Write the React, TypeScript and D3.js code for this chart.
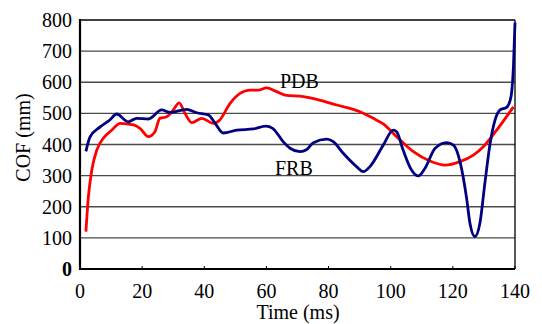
import React from "react";
import * as d3 from "d3";

const xTicks = [0, 20, 40, 60, 80, 100, 120, 140];
const yTicks = [0, 100, 200, 300, 400, 500, 600, 700, 800];

const pdbTime = [1.9, 2.7, 3.8, 5.4, 7.5, 10.2, 12.9, 17.2, 19.3, 22, 24.1, 25.7, 27.9, 30, 31.9, 33.8, 36, 39.2, 42.9, 45, 48.3, 51.5, 54.7, 57.4, 60, 63.3, 66, 71.9, 76.2, 82.6, 90.1, 94.4, 97.6, 101.9, 107.3, 112.6, 117.5, 122.3, 126.6, 129.8, 134.1, 139.5];
const pdbCof = [120, 232, 318, 382, 420, 446, 468, 463, 452, 425, 441, 484, 489, 511, 534, 500, 470, 484, 468, 479, 532, 564, 575, 575, 582, 570, 559, 554, 545, 527, 505, 484, 466, 425, 377, 347, 334, 345, 366, 393, 446, 521];

const frbTime = [1.9, 3.2, 6.4, 9.5, 11.8, 15.5, 18.2, 22, 26.3, 29, 34.3, 37.6, 41.3, 43.5, 46.1, 50.4, 55.8, 59.8, 62, 65.4, 67.6, 70.8, 73, 75.1, 79.4, 81.5, 84.7, 89, 91.2, 93.3, 97.6, 100.8, 101.9, 104, 106.7, 108.9, 111, 114.3, 118, 120.2, 122.3, 124.5, 125.5, 127.1, 128.7, 130.3, 132, 133.6, 135.2, 137.3, 138.4, 139, 139.5, 140];
const frbCof = [378, 424, 456, 478, 498, 473, 484, 482, 511, 503, 513, 502, 495, 468, 437, 446, 450, 459, 452, 409, 388, 377, 384, 406, 417, 409, 372, 329, 313, 329, 398, 446, 441, 382, 318, 299, 323, 388, 406, 398, 345, 222, 147, 104, 147, 275, 404, 479, 511, 519, 540, 575, 650, 792];

const W = 542, H = 324;
const left = 80, right = 515, top = 20, bottom = 269;

export default function App() {
  const x = d3.scaleLinear().domain([0, 140]).range([left, right]);
  const y = d3.scaleLinear().domain([0, 800]).range([bottom, top]);
  const line = d3.line<[number, number]>()
    .x(d => x(d[0]))
    .y(d => y(d[1]))
    .curve(d3.curveMonotoneX);
  const pdb = line(pdbTime.map((t, i) => [t, pdbCof[i]] as [number, number])) || "";
  const frb = line(frbTime.map((t, i) => [t, frbCof[i]] as [number, number])) || "";
  const font = "'Liberation Serif', 'Times New Roman', serif";
  return (
    <svg width={W} height={H} style={{ position: "absolute", left: 0, top: 0 }} fontFamily={font}>
      <rect x={0} y={0} width={W} height={H} fill="#fff" />
      {yTicks.filter(v => v > 0 && v < 800).map(v => (
        <line key={v} x1={left} x2={right} y1={y(v)} y2={y(v)} stroke="#4a4a4a" strokeWidth={1.4} />
      ))}
      <line x1={left} x2={right} y1={top} y2={top} stroke="#000" strokeWidth={1.3} />
      <line x1={right} x2={right} y1={top} y2={bottom} stroke="#000" strokeWidth={1.3} />
      {xTicks.filter(v => v > 0).map(v => (
        <line key={v} x1={x(v)} x2={x(v)} y1={bottom} y2={bottom - 3} stroke="#000" strokeWidth={1} />
      ))}
      <path d={pdb} fill="none" stroke="#ff0000" strokeWidth={2.8} strokeLinejoin="round" />
      <path d={frb} fill="none" stroke="#000080" strokeWidth={2.8} strokeLinejoin="round" />
      <line x1={left} x2={left} y1={top - 1} y2={bottom + 1} stroke="#000" strokeWidth={2.2} />
      <line x1={left - 1} x2={right} y1={bottom} y2={bottom} stroke="#000" strokeWidth={2.2} />
      {yTicks.map(v => (
        <text key={v} x={72} y={y(v)} dy="0.35em" textAnchor="end" fontSize={20}
          fontWeight={v === 0 ? "bold" : "normal"} fill="#000">{v}</text>
      ))}
      {xTicks.map(v => (
        <text key={v} x={x(v)} y={298} textAnchor="middle" fontSize={20} fill="#000">{v}</text>
      ))}
      <text x={280} y={88} textAnchor="start" fontSize={20} fill="#000">PDB</text>
      <text x={275} y={175} textAnchor="start" fontSize={20} fill="#000">FRB</text>
      <text x={298} y={319} textAnchor="middle" fontSize={20} fill="#000">Time (ms)</text>
      <text transform={`translate(30,137.5) rotate(-90)`} textAnchor="middle" fontSize={20} fill="#000">COF (mm)</text>
    </svg>
  );
}
